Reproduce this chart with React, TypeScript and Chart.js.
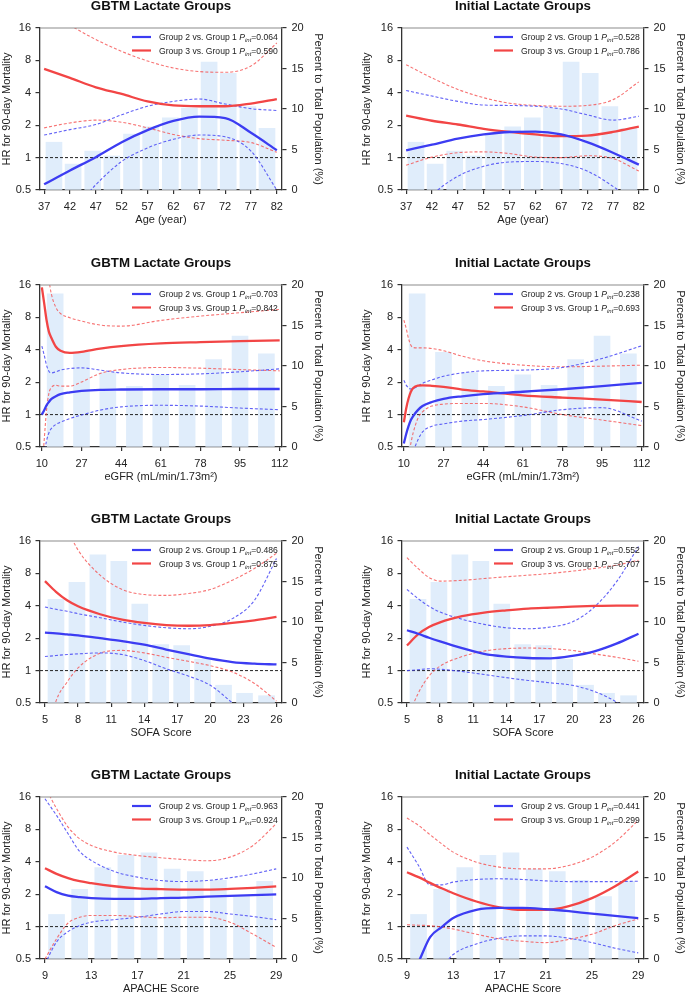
import React, { useEffect, useRef } from 'react';
import { Chart, registerables } from 'chart.js';

Chart.register(...registerables);

const FONT = "'Liberation Sans', Arial, Helvetica, sans-serif";

// ---------------- Row 1: Age ----------------
const ageTicks = [37, 42, 47, 52, 57, 62, 67, 72, 77, 82];
const ageBins = [38.9, 42.6, 46.4, 50.1, 53.9, 57.6, 61.4, 65.1, 68.9, 72.6, 76.4, 80.1];
const ageBarPct = [5.9, 3.2, 4.8, 4.2, 6.9, 7.8, 8.9, 10.1, 15.8, 14.4, 10.3, 7.6];
const ageX = [37, 42, 47, 52, 57, 62, 67, 72, 77, 82];

const gbtmAgeG2 = [0.565, 0.76, 1.01, 1.39, 1.8, 2.19, 2.4, 2.33, 1.7, 1.17];
const gbtmAgeG2Hi = [1.62, 1.82, 2.03, 2.5, 3.0, 3.33, 3.5, 3.15, 2.85, 2.74];
const gbtmAgeG2Lo = [0.18, 0.3, 0.56, 0.92, 1.23, 1.48, 1.62, 1.56, 1.15, 0.5];
const gbtmAgeG3 = [6.67, 5.5, 4.5, 3.9, 3.33, 3.05, 3.0, 3.0, 3.18, 3.5];
const gbtmAgeG3Hi = [24, 17, 12.5, 9.7, 7.9, 6.8, 6.3, 6.2, 7.1, 11.6];
const gbtmAgeG3Lo = [1.89, 2.1, 2.23, 2.13, 1.89, 1.64, 1.5, 1.45, 1.38, 1.12];

const initAgeG2 = [1.17, 1.32, 1.5, 1.64, 1.73, 1.74, 1.64, 1.39, 1.11, 0.86];
const initAgeG2Hi = [4.2, 3.73, 3.33, 3.08, 3.05, 3.0, 2.83, 2.5, 2.23, 2.42];
const initAgeG2Lo = [0.25, 0.45, 0.67, 0.83, 0.91, 0.92, 0.88, 0.75, 0.54, 0.35];
const initAgeG3 = [2.46, 2.2, 2.03, 1.85, 1.73, 1.64, 1.58, 1.6, 1.73, 1.94];
const initAgeG3Hi = [7.3, 5.5, 4.3, 3.6, 3.2, 3.05, 3.0, 3.05, 3.45, 5.05];
const initAgeG3Lo = [0.85, 1.01, 1.11, 1.13, 1.09, 1.01, 1.0, 1.04, 0.98, 0.75];

// ---------------- Row 2: eGFR ----------------
const egfrTicks = [10, 27, 44, 61, 78, 95, 112];
const egfrBins = [15.7, 27, 38.3, 49.7, 61, 72.3, 83.7, 95, 106.3];
const egfrBarPct = [18.9, 11.7, 9.2, 7.5, 8.9, 7.6, 10.8, 13.7, 11.5];
const egfrX = [10, 11, 12, 13, 14, 16, 18, 22, 27, 35, 44, 61, 78, 95, 112];

const gbtmEgfrG2 = [1.0, 1.1, 1.22, 1.31, 1.39, 1.48, 1.55, 1.61, 1.66, 1.7, 1.71, 1.72, 1.72, 1.73, 1.73];
const gbtmEgfrG2Hi = [4.33, 3.57, 2.88, 2.53, 2.44, 2.5, 2.59, 2.68, 2.72, 2.59, 2.44, 2.36, 2.39, 2.5, 2.66];
const gbtmEgfrG2Lo = [0.25, 0.42, 0.57, 0.675, 0.74, 0.81, 0.85, 0.92, 0.99, 1.1, 1.18, 1.22, 1.2, 1.15, 1.11];
const gbtmEgfrG3 = [15.2, 10.8, 7.56, 5.9, 5.2, 4.27, 3.92, 3.75, 3.83, 4.1, 4.33, 4.58, 4.71, 4.82, 4.89];
const gbtmEgfrG3Hi = [80, 40, 25, 18, 13.4, 9.9, 8.7, 7.94, 7.4, 6.79, 6.64, 7.5, 8.23, 8.84, 9.5];
const gbtmEgfrG3Lo = [0.3, 0.58, 1.1, 1.57, 1.78, 1.87, 1.84, 1.84, 2.01, 2.41, 2.62, 2.74, 2.7, 2.62, 2.55];

const initEgfrG2 = [0.54, 0.66, 0.78, 0.89, 0.97, 1.1, 1.2, 1.31, 1.4, 1.48, 1.55, 1.63, 1.72, 1.84, 1.97];
const initEgfrG2Hi = [2.09, 1.88, 1.77, 1.73, 1.74, 1.84, 1.95, 2.1, 2.27, 2.44, 2.55, 2.59, 2.74, 3.32, 4.36];
const initEgfrG2Lo = [0.2, 0.25, 0.3, 0.37, 0.45, 0.58, 0.69, 0.78, 0.82, 0.87, 0.9, 0.98, 1.11, 1.16, 0.87];
const initEgfrG3 = [0.85, 1.14, 1.41, 1.63, 1.77, 1.86, 1.87, 1.85, 1.81, 1.71, 1.64, 1.51, 1.44, 1.38, 1.31];
const initEgfrG3Hi = [7.56, 6.32, 5.1, 4.42, 4.2, 4.17, 4.17, 4.11, 3.92, 3.49, 3.16, 2.88, 2.78, 2.82, 2.88];
const initEgfrG3Lo = [0.25, 0.32, 0.42, 0.54, 0.68, 0.92, 1.06, 1.2, 1.25, 1.27, 1.27, 1.18, 1.0, 0.89, 0.79];

// ---------------- Row 3: SOFA ----------------
const sofaTicks = [5, 8, 11, 14, 17, 20, 23, 26];
const sofaBins = [6, 7.9, 9.8, 11.7, 13.6, 15.5, 17.4, 19.3, 21.2, 23.1, 25.1];
const sofaBarPct = [12.8, 14.9, 18.3, 17.5, 12.2, 7.2, 7.1, 5.4, 2.2, 1.2, 0.9];
const sofaX = [5, 6, 7, 8, 10, 12, 14, 16, 18, 20, 22, 24, 26];

const gbtmSofaG2 = [2.25, 2.22, 2.17, 2.12, 2.0, 1.88, 1.74, 1.57, 1.42, 1.29, 1.2, 1.16, 1.14];
const gbtmSofaG2Hi = [3.9, 3.71, 3.56, 3.38, 3.1, 2.83, 2.63, 2.5, 2.45, 2.58, 3.04, 4.5, 11.0];
const gbtmSofaG2Lo = [1.35, 1.38, 1.41, 1.43, 1.46, 1.41, 1.24, 1.04, 0.89, 0.73, 0.5, 0.33, 0.22];
const gbtmSofaG3 = [6.78, 5.39, 4.5, 3.96, 3.34, 2.97, 2.77, 2.65, 2.61, 2.65, 2.77, 2.93, 3.15];
const gbtmSofaG3Hi = [60, 35, 21, 13.2, 7.7, 5.67, 5.09, 5.0, 5.2, 5.67, 6.92, 8.9, 12.3];
const gbtmSofaG3Lo = [0.2, 0.52, 0.78, 1.06, 1.45, 1.54, 1.46, 1.33, 1.22, 1.11, 0.97, 0.76, 0.52];

const initSofaG2 = [2.37, 2.2, 2.02, 1.87, 1.62, 1.43, 1.35, 1.31, 1.3, 1.37, 1.51, 1.78, 2.2];
const initSofaG2Hi = [5.67, 4.67, 3.96, 3.5, 3.0, 2.69, 2.5, 2.45, 2.54, 2.83, 3.9, 6.68, 14.2];
const initSofaG2Lo = [1.0, 1.02, 1.04, 1.03, 0.98, 0.92, 0.86, 0.81, 0.77, 0.73, 0.64, 0.51, 0.36];
const initSofaG3 = [1.71, 2.17, 2.54, 2.81, 3.2, 3.46, 3.63, 3.77, 3.85, 3.93, 3.99, 4.02, 4.02];
const initSofaG3Hi = [11.2, 8.9, 7.33, 6.78, 6.9, 7.17, 7.44, 7.7, 7.99, 8.4, 8.9, 9.55, 10.6];
const initSofaG3Lo = [0.35, 0.61, 0.89, 1.1, 1.35, 1.52, 1.6, 1.62, 1.6, 1.54, 1.43, 1.33, 1.22];

// ---------------- Row 4: APACHE ----------------
const apacheTicks = [9, 13, 17, 21, 25, 29];
const apacheBins = [10, 12, 14, 16, 18, 20, 22, 24, 26, 28];
const apacheBarPct = [5.5, 8.6, 11.3, 12.8, 13.1, 11.1, 10.8, 9.7, 7.7, 9.6];
const apacheX = [9, 10, 11, 12, 13, 15, 17, 19, 21, 23, 25, 27, 29];

const gbtmApacheG2 = [2.37, 2.09, 1.94, 1.88, 1.84, 1.81, 1.81, 1.84, 1.86, 1.9, 1.93, 1.96, 1.99];
const gbtmApacheG2Hi = [15.4, 10.8, 7.29, 4.99, 4.12, 3.25, 2.88, 2.68, 2.62, 2.68, 2.84, 3.09, 3.44];
const gbtmApacheG2Lo = [0.45, 0.72, 0.9, 1.02, 1.1, 1.16, 1.22, 1.31, 1.38, 1.38, 1.31, 1.24, 1.16];
const gbtmApacheG3 = [3.49, 3.09, 2.82, 2.64, 2.53, 2.37, 2.27, 2.23, 2.21, 2.21, 2.24, 2.29, 2.36];
const gbtmApacheG3Hi = [20, 12.5, 8.41, 6.55, 5.68, 4.92, 4.58, 4.36, 4.2, 4.09, 4.42, 5.68, 9.03];
const gbtmApacheG3Lo = [0.5, 0.77, 1.08, 1.22, 1.27, 1.27, 1.24, 1.21, 1.22, 1.22, 1.1, 0.85, 0.64];

const initApacheG2 = [0.3, 0.47, 0.8, 0.99, 1.2, 1.43, 1.49, 1.49, 1.45, 1.39, 1.32, 1.26, 1.2];
const initApacheG2Hi = [5.48, 3.7, 2.44, 2.44, 2.59, 2.74, 2.78, 2.74, 2.66, 2.62, 2.62, 2.62, 2.64];
const initApacheG2Lo = [0.2, 0.25, 0.32, 0.42, 0.55, 0.69, 0.78, 0.82, 0.82, 0.78, 0.71, 0.63, 0.57];
const initApacheG3 = [3.2, 2.88, 2.55, 2.27, 2.04, 1.71, 1.51, 1.43, 1.43, 1.55, 1.84, 2.37, 3.25];
const initApacheG3Hi = [10.2, 8.72, 7.13, 5.88, 4.92, 3.97, 3.57, 3.44, 3.44, 3.7, 4.42, 6.1, 9.7];
const initApacheG3Lo = [1.04, 1.03, 1.02, 0.99, 0.95, 0.85, 0.77, 0.73, 0.71, 0.76, 0.85, 1.02, 1.18];

// ---------------- shared axes / labels ----------------
const hrTicks = [0.5, 1, 2, 4, 8, 16];
const pctTicks = [0, 5, 10, 15, 20];
const panelTitles = ['GBTM Lactate Groups', 'Initial Lactate Groups'];
const seriesLabels = ['Group 2 vs. Group 1', 'Group 3 vs. Group 1'];
const yLeftTitle = 'HR for 90-day Mortality';
const yRightTitle = 'Percent to Total Population (%)';
const pGbtm = [['0.064', '0.590'], ['0.703', '0.842'], ['0.486', '0.875'], ['0.963', '0.924']];
const pInit = [['0.528', '0.786'], ['0.238', '0.693'], ['0.552', '0.707'], ['0.441', '0.299']];

const BLUE = '#3c3cf2';
const RED = '#f24545';
const BLUE_D = 'rgba(70,70,245,0.85)';
const RED_D = 'rgba(245,80,80,0.8)';
const BAR = 'rgb(224,237,251)';
const AXIS = '#333';
const TXT = '#222';

type RowSpec = {
  xTitle: string; xMin: number; xMax: number; ticks: number[];
  bins: number[]; pct: number[]; xs: number[];
  gbtm: number[][]; init: number[][];
};

const rows: RowSpec[] = [
  { xTitle: 'Age (year)', xMin: 36.2, xMax: 83, ticks: ageTicks, bins: ageBins, pct: ageBarPct, xs: ageX,
    gbtm: [gbtmAgeG2, gbtmAgeG2Lo, gbtmAgeG2Hi, gbtmAgeG3, gbtmAgeG3Lo, gbtmAgeG3Hi],
    init: [initAgeG2, initAgeG2Lo, initAgeG2Hi, initAgeG3, initAgeG3Lo, initAgeG3Hi] },
  { xTitle: 'eGFR (mL/min/1.73m\u00b2)', xMin: 9.2, xMax: 113, ticks: egfrTicks, bins: egfrBins, pct: egfrBarPct, xs: egfrX,
    gbtm: [gbtmEgfrG2, gbtmEgfrG2Lo, gbtmEgfrG2Hi, gbtmEgfrG3, gbtmEgfrG3Lo, gbtmEgfrG3Hi],
    init: [initEgfrG2, initEgfrG2Lo, initEgfrG2Hi, initEgfrG3, initEgfrG3Lo, initEgfrG3Hi] },
  { xTitle: 'SOFA Score', xMin: 4.55, xMax: 26.5, ticks: sofaTicks, bins: sofaBins, pct: sofaBarPct, xs: sofaX,
    gbtm: [gbtmSofaG2, gbtmSofaG2Lo, gbtmSofaG2Hi, gbtmSofaG3, gbtmSofaG3Lo, gbtmSofaG3Hi],
    init: [initSofaG2, initSofaG2Lo, initSofaG2Hi, initSofaG3, initSofaG3Lo, initSofaG3Hi] },
  { xTitle: 'APACHE Score', xMin: 8.57, xMax: 29.5, ticks: apacheTicks, bins: apacheBins, pct: apacheBarPct, xs: apacheX,
    gbtm: [gbtmApacheG2, gbtmApacheG2Lo, gbtmApacheG2Hi, gbtmApacheG3, gbtmApacheG3Lo, gbtmApacheG3Hi],
    init: [initApacheG2, initApacheG2Lo, initApacheG2Hi, initApacheG3, initApacheG3Lo, initApacheG3Hi] },
];

// layout geometry (page pixels)
const ROW_PLOT_TOP = [28, 285, 541, 797];
const TOP_PAD = 28;
const PLOT_H = 162;
const CANVAS_H = 228;
const COLS = [
  { left: 0, width: 342, plotLeft: 40, plotRight: 282, yPad: 0, rPad: 17.4 },
  { left: 342, width: 370, plotLeft: 60, plotRight: 302, yPad: 18.7, rPad: 25.4 },
];

const decorPlugin = {
  id: 'decor',
  afterDatasetDraw(chart: any, args: any) {
    const ds = chart.data.datasets[args.index];
    if (ds.type !== 'bar') return;
    const { ctx, chartArea } = chart;
    const y = chart.scales.y.getPixelForValue(1);
    ctx.save();
    ctx.beginPath();
    ctx.setLineDash([3, 2]);
    ctx.strokeStyle = '#222';
    ctx.lineWidth = 1;
    ctx.moveTo(chartArea.left, y);
    ctx.lineTo(chartArea.right, y);
    ctx.stroke();
    ctx.restore();
  },
  afterDraw(chart: any, _args: any, opts: any) {
    const { ctx, chartArea } = chart;
    ctx.save();
    // top frame line
    ctx.beginPath();
    ctx.strokeStyle = '#8c8c8c';
    ctx.lineWidth = 1.2;
    ctx.moveTo(chartArea.left, chartArea.top);
    ctx.lineTo(chartArea.right, chartArea.top);
    ctx.stroke();
    // title
    ctx.fillStyle = '#111';
    ctx.font = `bold 13.3px ${FONT}`;
    ctx.textAlign = 'center';
    ctx.textBaseline = 'alphabetic';
    ctx.fillText(opts.title, (chartArea.left + chartArea.right) / 2, chartArea.top - 18.5);
    // legend
    const colors = [BLUE, RED];
    const ys = [chartArea.top + 9, chartArea.top + 22.5];
    for (let i = 0; i < 2; i++) {
      const y = ys[i];
      ctx.beginPath();
      ctx.setLineDash([]);
      ctx.strokeStyle = colors[i];
      ctx.lineWidth = 2.2;
      ctx.moveTo(chartArea.right - 150, y);
      ctx.lineTo(chartArea.right - 131, y);
      ctx.stroke();
      ctx.textAlign = 'left';
      ctx.fillStyle = TXT;
      const base = y + 3.1;
      let x = chartArea.right - 123;
      ctx.font = `8.6px ${FONT}`;
      const t1 = seriesLabels[i] + ' ';
      ctx.fillText(t1, x, base);
      x += ctx.measureText(t1).width;
      ctx.font = `italic 8.6px ${FONT}`;
      ctx.fillText('P', x, base);
      x += ctx.measureText('P').width;
      ctx.font = `italic 6px ${FONT}`;
      ctx.fillText('int', x, base + 2);
      x += ctx.measureText('int').width;
      ctx.font = `8.6px ${FONT}`;
      ctx.fillText('=' + opts.p[i], x, base);
    }
    ctx.restore();
  },
};

function Panel({ row, col }: { row: number; col: number }) {
  const ref = useRef<HTMLCanvasElement>(null);
  const r = rows[row];
  const c = COLS[col];
  const top = ROW_PLOT_TOP[row] - TOP_PAD;

  useEffect(() => {
    const series = col === 0 ? r.gbtm : r.init;
    const pv = col === 0 ? pGbtm[row] : pInit[row];
    const pts = (arr: number[]) => r.xs.map((x, i) => ({ x, y: arr[i] }));
    const solid = (arr: number[], color: string) => ({
      type: 'line', data: pts(arr), yAxisID: 'y', xAxisID: 'x', borderColor: color, borderWidth: 2.3,
      pointRadius: 0, cubicInterpolationMode: 'monotone', fill: false, order: 1, clip: 0,
    });
    const dashed = (arr: number[], color: string) => ({
      type: 'line', data: pts(arr), yAxisID: 'y', xAxisID: 'x', borderColor: color, borderWidth: 1.1,
      borderDash: [3, 2], pointRadius: 0, cubicInterpolationMode: 'monotone', fill: false, order: 2, clip: 0,
    });
    const tickFont = { family: FONT, size: 11 };
    const titleFont = { family: FONT, size: 11 };
    const chart = new Chart(ref.current as HTMLCanvasElement, {
      type: 'line',
      data: {
        datasets: [
          solid(series[0], BLUE),
          solid(series[3], RED),
          dashed(series[1], BLUE_D),
          dashed(series[2], BLUE_D),
          dashed(series[4], RED_D),
          dashed(series[5], RED_D),
          {
            type: 'bar', data: r.bins.map((x, i) => ({ x, y: r.pct[i] })), yAxisID: 'y2', xAxisID: 'x',
            backgroundColor: BAR, borderWidth: 0, barThickness: 16, order: 10,
          },
        ] as any,
      },
      options: {
        responsive: false,
        animation: false,
        events: [],
        layout: { padding: { top: TOP_PAD, left: 0, right: 0, bottom: 0 } },
        plugins: {
          legend: { display: false },
          tooltip: { enabled: false },
          title: { display: false },
          decor: { title: panelTitles[col], p: pv },
        } as any,
        scales: {
          x: {
            type: 'linear', position: 'bottom', min: r.xMin, max: r.xMax, offset: false,
            afterBuildTicks: (s: any) => { s.ticks = r.ticks.map((v) => ({ value: v })); },
            afterFit: (s: any) => { s.height = CANVAS_H - TOP_PAD - PLOT_H; },
            ticks: { font: tickFont, color: TXT, padding: 6, maxRotation: 0, autoSkip: false, callback: (v: any) => String(v) },
            grid: { display: true, drawOnChartArea: false, drawTicks: true, tickLength: 4, color: AXIS, lineWidth: 1.2, offset: false },
            border: { display: true, color: AXIS, width: 1.3 },
            title: { display: true, text: r.xTitle, font: titleFont, color: TXT, padding: { top: 0, bottom: 1.2 } },
          },
          y: {
            type: 'logarithmic', position: 'left', min: 0.5, max: 16,
            afterBuildTicks: (s: any) => { s.ticks = hrTicks.map((v) => ({ value: v })); },
            afterFit: (s: any) => { s.width = c.plotLeft; },
            ticks: { font: tickFont, color: TXT, padding: 4.5, autoSkip: false, callback: (v: any) => String(v) },
            grid: { display: true, drawOnChartArea: false, drawTicks: true, tickLength: 4.5, color: AXIS, lineWidth: 1.2 },
            border: { display: true, color: AXIS, width: 1.3 },
            title: { display: true, text: yLeftTitle, font: titleFont, color: TXT, padding: { top: c.yPad, bottom: 0 } },
          },
          y2: {
            type: 'linear', position: 'right', min: 0, max: 20,
            afterBuildTicks: (s: any) => { s.ticks = pctTicks.map((v) => ({ value: v })); },
            afterFit: (s: any) => { s.width = c.width - c.plotRight; },
            ticks: { font: tickFont, color: TXT, padding: 5, autoSkip: false, callback: (v: any) => String(v) },
            grid: { display: true, drawOnChartArea: false, drawTicks: true, tickLength: 4.5, color: AXIS, lineWidth: 1.2 },
            border: { display: true, color: AXIS, width: 1.3 },
            title: { display: true, text: yRightTitle, font: titleFont, color: TXT, padding: { top: c.rPad, bottom: 0 } },
          },
        } as any,
      },
      plugins: [decorPlugin as any],
    } as any);
    return () => chart.destroy();
  }, []);

  return (
    <canvas
      ref={ref}
      width={c.width}
      height={CANVAS_H}
      style={{ position: 'absolute', left: c.left, top, width: c.width, height: CANVAS_H, display: 'block' }}
    />
  );
}

export default function App() {
  const panels = [];
  for (let row = 0; row < 4; row++) {
    for (let col = 0; col < 2; col++) {
      panels.push(<Panel key={`${row}-${col}`} row={row} col={col} />);
    }
  }
  return (
    <div style={{ position: 'fixed', left: 0, top: 0, width: 685, height: 993, overflow: 'hidden', background: '#fff' }}>
      {panels}
    </div>
  );
}
